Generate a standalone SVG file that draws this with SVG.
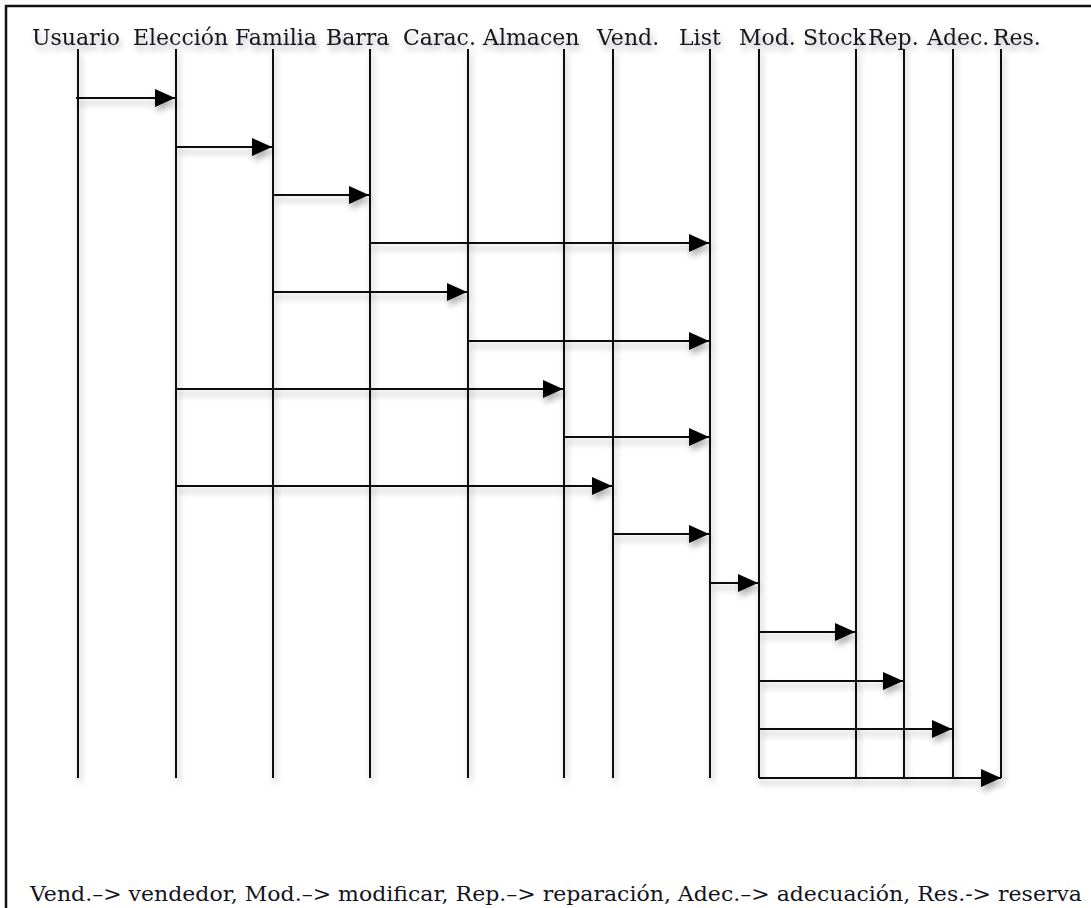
<svg xmlns="http://www.w3.org/2000/svg" width="1091" height="908" viewBox="0 0 1091 908">
  <style>
    .label { font-family: "DejaVu Serif", "Liberation Serif", serif; font-size: 22px; fill: #14141c; }
    .note { font-family: "DejaVu Serif", "Liberation Serif", serif; font-size: 21px; fill: #14141c; }
    .life { stroke: #111; stroke-width: 2; fill: none; }
    .msg { stroke: #111; stroke-width: 2; fill: none; marker-end: url(#head); }
  </style>
  <defs>
    <marker id="head" markerUnits="userSpaceOnUse" markerWidth="22" markerHeight="20" refX="20" refY="9" orient="auto">
      <path d="M0,0 L20,9 L0,18 Z" fill="#000"/>
    </marker>
    <filter id="shade" x="-5%" y="-5%" width="115%" height="115%">
      <feDropShadow dx="2" dy="5" stdDeviation="3" flood-color="#000" flood-opacity="0.3"/>
    </filter>
  </defs>

  <rect width="1091" height="908" fill="#fff"/>
  <!-- outer frame, running past the right and bottom edges -->
  <rect x="6" y="6" width="1120" height="1000" fill="none" stroke="#111" stroke-width="2.5"/>

  <!-- lifelines with their headings -->
  <g filter="url(#shade)">
    <g id="usuario"><text class="label" x="32" y="45">Usuario</text><line class="life" x1="78" y1="49" x2="78" y2="778"/></g>
    <g id="eleccion"><text class="label" x="133" y="45">Elección</text><line class="life" x1="176" y1="49" x2="176" y2="778"/></g>
    <g id="familia"><text class="label" x="235" y="45">Familia</text><line class="life" x1="273" y1="49" x2="273" y2="778"/></g>
    <g id="barra"><text class="label" x="326" y="45">Barra</text><line class="life" x1="370" y1="49" x2="370" y2="778"/></g>
    <g id="carac"><text class="label" x="403" y="45">Carac.</text><line class="life" x1="468" y1="49" x2="468" y2="778"/></g>
    <g id="almacen"><text class="label" x="483" y="45">Almacen</text><line class="life" x1="564" y1="49" x2="564" y2="778"/></g>
    <g id="vend"><text class="label" x="597" y="45">Vend.</text><line class="life" x1="613" y1="49" x2="613" y2="778"/></g>
    <g id="list"><text class="label" x="679" y="45">List</text><line class="life" x1="710" y1="49" x2="710" y2="778"/></g>
    <g id="mod"><text class="label" x="739" y="45">Mod.</text><line class="life" x1="759" y1="49" x2="759" y2="778"/></g>
    <g id="stock"><text class="label" x="803" y="45">Stock</text><line class="life" x1="856" y1="49" x2="856" y2="778"/></g>
    <g id="rep"><text class="label" x="868" y="45">Rep.</text><line class="life" x1="904" y1="49" x2="904" y2="778"/></g>
    <g id="adec"><text class="label" x="927" y="45">Adec.</text><line class="life" x1="953" y1="49" x2="953" y2="778"/></g>
    <g id="res"><text class="label" x="993" y="45">Res.</text><line class="life" x1="1001" y1="49" x2="1001" y2="778"/></g>
  </g>

  <!-- messages -->
  <g id="connectors" filter="url(#shade)">
    <line class="msg" x1="76" y1="98" x2="175" y2="98"/>
    <line class="msg" x1="176" y1="147" x2="272" y2="147"/>
    <line class="msg" x1="273" y1="195" x2="369" y2="195"/>
    <line class="msg" x1="370" y1="243" x2="709" y2="243"/>
    <line class="msg" x1="273" y1="292" x2="467" y2="292"/>
    <line class="msg" x1="468" y1="341" x2="709" y2="341"/>
    <line class="msg" x1="176" y1="389" x2="563" y2="389"/>
    <line class="msg" x1="564" y1="437" x2="709" y2="437"/>
    <line class="msg" x1="176" y1="486" x2="612" y2="486"/>
    <line class="msg" x1="613" y1="534" x2="709" y2="534"/>
    <line class="msg" x1="710" y1="583" x2="758" y2="583"/>
    <line class="msg" x1="759" y1="632" x2="855" y2="632"/>
    <line class="msg" x1="759" y1="681" x2="903" y2="681"/>
    <line class="msg" x1="759" y1="729" x2="952" y2="729"/>
    <line class="msg" x1="759" y1="778" x2="1001" y2="778"/>
  </g>

  <!-- abbreviations -->
  <text class="note" x="30" y="901" textLength="1052" lengthAdjust="spacingAndGlyphs">Vend.–&gt; vendedor, Mod.–&gt; modificar, Rep.–&gt; reparación, Adec.–&gt; adecuación, Res.-&gt; reserva</text>
</svg>
